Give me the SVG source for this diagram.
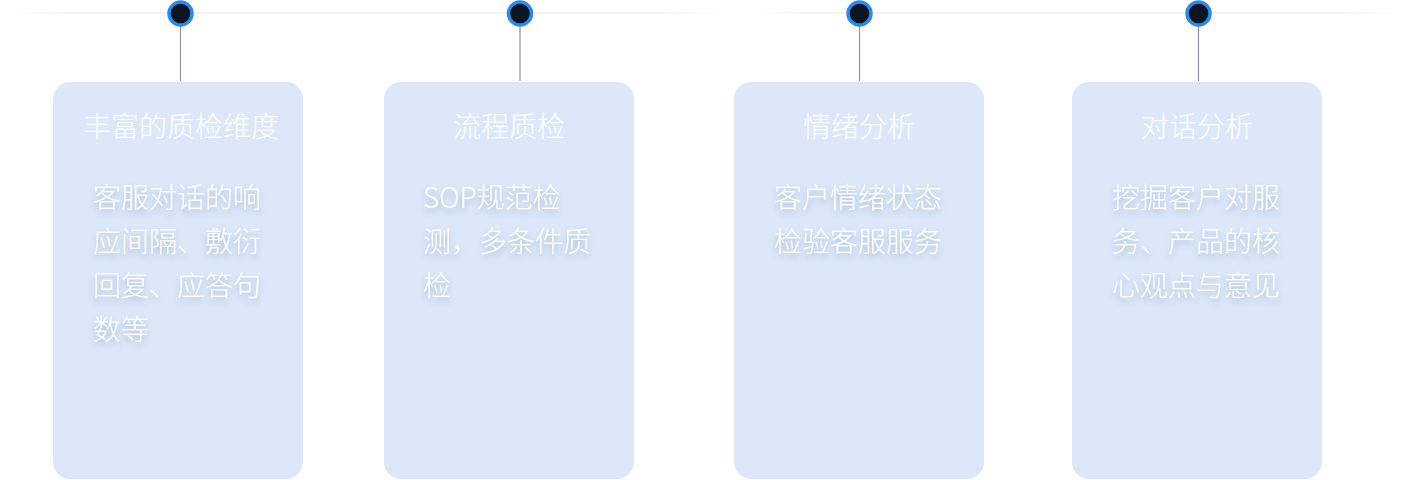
<svg xmlns="http://www.w3.org/2000/svg" width="1416" height="480" viewBox="0 0 1416 480">
<defs>
<linearGradient id="lineGrad" x1="0" y1="0" x2="1" y2="0">
<stop offset="0" stop-color="#eef0f3" stop-opacity="0"/>
<stop offset="0.08" stop-color="#eef0f3" stop-opacity="1"/>
<stop offset="0.9" stop-color="#eef0f3" stop-opacity="1"/>
<stop offset="1" stop-color="#eef0f3" stop-opacity="0"/>
</linearGradient>
<filter id="shadow" x="-20%" y="-30%" width="140%" height="170%">
<feDropShadow dx="0" dy="4" stdDeviation="3" flood-color="#3a5580" flood-opacity="0.35"/>
</filter>
<style>
.box{fill:#dce8fa;}
.stem{stroke:#8a96a6;stroke-width:1.2;}
.ring{fill:#0b1526;stroke:#2b8ae6;stroke-width:3.5;}
.title{font-family:"Noto Sans CJK SC","Noto Sans",sans-serif;font-size:28px;font-weight:300;fill:#ffffff;text-anchor:middle;}
.body{font-family:"Noto Sans CJK SC","Noto Sans",sans-serif;font-size:28px;font-weight:300;fill:#ffffff;filter:url(#shadow);}
</style>
</defs>
<g id="connectors">
<rect x="10" y="12" width="715" height="1.5" fill="url(#lineGrad)"/>
<rect x="755" y="12" width="648" height="1.5" fill="url(#lineGrad)"/>
<line class="stem" x1="180.5" y1="26" x2="180.5" y2="81"/>
<line class="stem" x1="520" y1="26" x2="520" y2="81"/>
<line class="stem" x1="859.5" y1="26" x2="859.5" y2="81"/>
<line class="stem" x1="1198.5" y1="26" x2="1198.5" y2="81"/>
<circle class="ring" cx="180.5" cy="13.5" r="11.5"/>
<circle class="ring" cx="520" cy="13.5" r="11.5"/>
<circle class="ring" cx="859.5" cy="13.5" r="11.5"/>
<circle class="ring" cx="1198.5" cy="13.5" r="11.5"/>
</g>
<g id="node1">
<rect class="box" x="53" y="82" width="250" height="397" rx="17"/>
<text class="title" x="181" y="137">丰富的质检维度</text>
<text class="body" x="93" y="208">客服对话的响</text>
<text class="body" x="93" y="252">应间隔、敷衍</text>
<text class="body" x="93" y="296">回复、应答句</text>
<text class="body" x="93" y="340">数等</text>
</g>
<g id="node2">
<rect class="box" x="384" y="82" width="250" height="397" rx="17"/>
<text class="title" x="509" y="137">流程质检</text>
<text class="body" x="423" y="208">SOP规范检</text>
<text class="body" x="423" y="252">测，多条件质</text>
<text class="body" x="423" y="296">检</text>
</g>
<g id="node3">
<rect class="box" x="734" y="82" width="250" height="397" rx="17"/>
<text class="title" x="859" y="137">情绪分析</text>
<text class="body" x="774" y="208">客户情绪状态</text>
<text class="body" x="774" y="252">检验客服服务</text>
</g>
<g id="node4">
<rect class="box" x="1072" y="82" width="250" height="397" rx="17"/>
<text class="title" x="1197" y="137">对话分析</text>
<text class="body" x="1112" y="208">挖掘客户对服</text>
<text class="body" x="1112" y="252">务、产品的核</text>
<text class="body" x="1112" y="296">心观点与意见</text>
</g>
</svg>
